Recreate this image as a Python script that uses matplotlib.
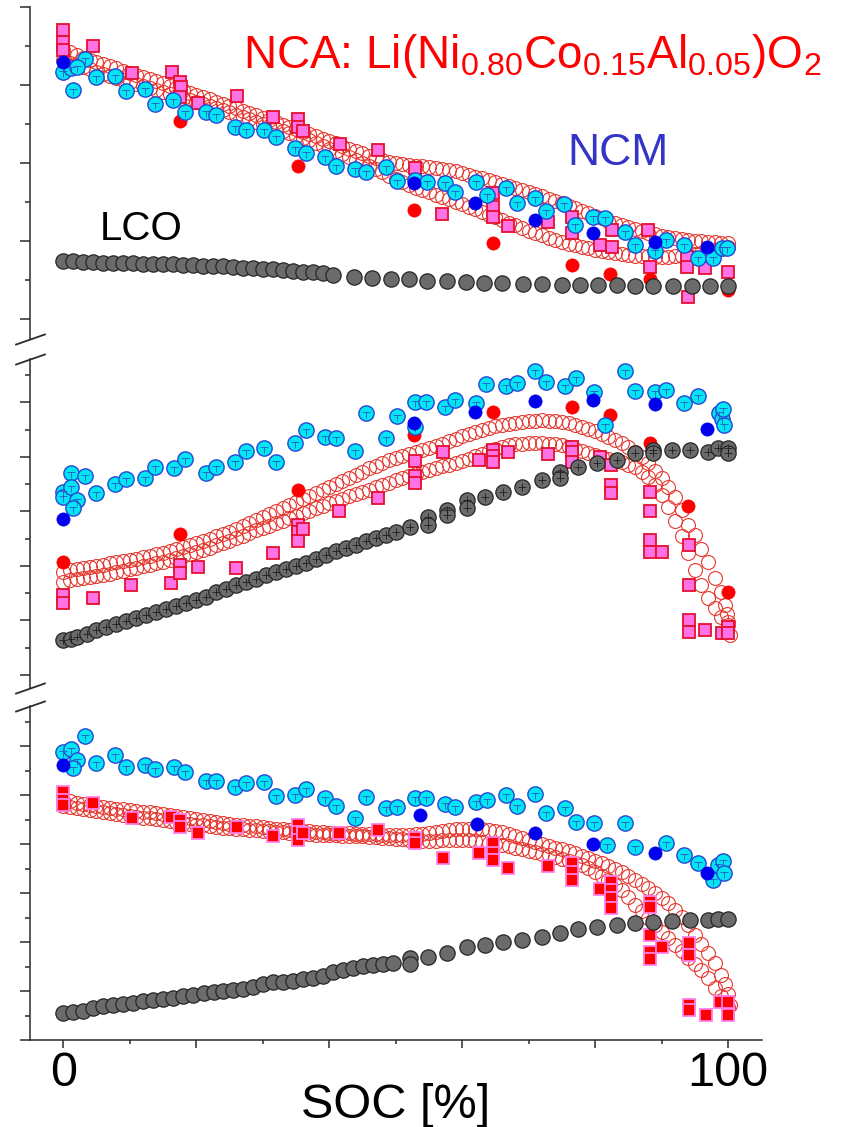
import numpy as np
import matplotlib.pyplot as plt
from matplotlib.path import Path

plt.rcParams['font.family'] = ['Liberation Sans', 'DejaVu Sans']
plt.rcParams['mathtext.fontset'] = 'custom'
plt.rcParams['mathtext.rm'] = 'Liberation Sans'
plt.rcParams['mathtext.it'] = 'Liberation Sans:italic'

# ---------------------------------------------------------------
# data: value in units of one y tick step, SOC in %
# ---------------------------------------------------------------

# SOC grid of the densely sampled NCA curves (1 % steps)
soc_grid = np.arange(0, 101)

# top panel
top_lco = [(0, 1.49), (1.5, 1.48), (3, 1.47), (4.5, 1.46), (6, 1.45), (7.5, 1.45), (9, 1.44),
           (10.5, 1.43), (12, 1.42), (13.5, 1.41), (15, 1.40), (16.5, 1.40), (18, 1.39),
           (19.5, 1.38), (21, 1.37), (22.5, 1.36), (24, 1.35), (25.5, 1.34), (27, 1.32),
           (28.5, 1.31), (30, 1.29), (31.5, 1.28), (33, 1.26), (34.5, 1.24), (36, 1.22),
           (37.5, 1.20), (39, 1.17), (40.5, 1.13), (43.8, 1.08), (46.5, 1.05), (49.3, 1.03),
           (52.0, 1.03), (54.7, 0.97), (57.7, 0.97), (60.6, 0.95), (63.3, 0.92), (66.0, 0.92),
           (69.2, 0.90), (72.0, 0.90), (75.0, 0.87), (77.7, 0.87), (80.5, 0.87), (83.3, 0.87),
           (86.0, 0.85), (88.7, 0.85), (91.7, 0.85), (94.6, 0.85), (97.3, 0.85), (100, 0.85)]
top_nca_a = [6.90, 6.84, 6.77, 6.70, 6.64, 6.59, 6.54, 6.48, 6.44, 6.37,
             6.31, 6.26, 6.21, 6.15, 6.10, 6.04, 5.97, 5.93, 5.87, 5.80,
             5.74, 5.70, 5.64, 5.57, 5.51, 5.47, 5.41, 5.34, 5.28, 5.22,
             5.15, 5.11, 5.05, 4.98, 4.92, 4.86, 4.79, 4.75, 4.69, 4.62,
             4.56, 4.51, 4.44, 4.37, 4.31, 4.25, 4.18, 4.14, 4.08, 4.03,
             4.00, 3.97, 3.95, 3.93, 3.92, 3.90, 3.87, 3.85, 3.82, 3.79,
             3.74, 3.70, 3.64, 3.61, 3.56, 3.51, 3.46, 3.42, 3.36, 3.31,
             3.26, 3.21, 3.15, 3.09, 3.03, 2.97, 2.90, 2.84, 2.77, 2.71,
             2.64, 2.58, 2.51, 2.46, 2.41, 2.36, 2.31, 2.26, 2.21, 2.17,
             2.13, 2.10, 2.08, 2.05, 2.03, 2.01, 2.00, 1.98, 1.97, 1.96,
             1.95]
top_nca_b = [6.64, 6.57, 6.51, 6.46, 6.41, 6.34, 6.28, 6.23, 6.18, 6.13,
             6.08, 6.02, 5.97, 5.92, 5.87, 5.82, 5.77, 5.72, 5.67, 5.61,
             5.56, 5.51, 5.46, 5.41, 5.36, 5.30, 5.24, 5.18, 5.12, 5.06,
             5.00, 4.94, 4.88, 4.82, 4.76, 4.70, 4.64, 4.58, 4.51, 4.44,
             4.37, 4.30, 4.23, 4.16, 4.08, 4.00, 3.92, 3.85, 3.77, 3.68,
             3.60, 3.52, 3.44, 3.37, 3.31, 3.25, 3.19, 3.13, 3.07, 3.01,
             2.95, 2.88, 2.81, 2.74, 2.67, 2.61, 2.54, 2.47, 2.40, 2.33,
             2.27, 2.21, 2.15, 2.09, 2.03, 1.97, 1.93, 1.89, 1.85, 1.81,
             1.78, 1.75, 1.72, 1.69, 1.67, 1.65, 1.63, 1.62, 1.61, 1.60,
             1.59, 1.60, 1.61, 1.62, 1.64, 1.66, 1.69, 1.72, 1.76, 1.80,
             1.85]
top_sq = [(0, 7.41), (0, 7.10), (0, 6.90), (4.5, 7.00), (10.4, 6.31), (16.4, 6.33), (17.6, 6.08),
          (17.7, 5.95), (17.6, 5.69), (20.2, 5.54), (26.2, 5.72), (31.6, 5.18), (35.3, 5.13),
          (35.3, 4.92), (36.1, 4.82), (41.7, 4.49), (47.4, 4.33), (52.9, 3.87), (57.0, 2.69),
          (64.7, 3.23), (64.7, 2.87), (64.7, 2.62), (66.9, 2.38), (72.9, 2.49), (76.5, 2.62),
          (76.5, 2.21), (80.8, 1.90), (82.6, 2.28), (82.6, 1.85), (88.0, 2.28), (88.3, 1.33),
          (93.8, 1.59), (93.8, 1.33), (94.0, 0.56), (96.5, 1.31), (100, 1.21)]
top_red = [(0, 6.31), (17.6, 5.08), (35.3, 3.92), (52.8, 2.79), (64.7, 1.95), (76.5, 1.38),
           (82.3, 1.15), (88.3, 1.03), (100, 0.74)]
top_blue = [(0, 6.59), (52.8, 3.49), (62.0, 2.97), (71.0, 2.54), (79.7, 2.21), (89.0, 1.97),
            (96.8, 1.85)]
top_cyan = [(0, 6.33), (1.2, 6.44), (1.4, 5.87), (3.3, 6.67), (2.1, 6.46), (5.0, 6.21),
            (7.8, 6.23), (9.5, 5.85), (12.3, 5.90), (13.8, 5.51), (16.5, 5.62), (18.3, 5.31),
            (21.4, 5.31), (23.0, 5.23), (25.9, 4.92), (27.5, 4.85), (30.2, 4.85), (32.0, 4.67),
            (34.9, 4.38), (36.5, 4.26), (39.4, 4.15), (41.1, 3.92), (43.9, 3.85), (45.6, 3.77),
            (48.6, 3.90), (50.2, 3.54), (52.9, 3.56), (54.7, 3.51), (57.4, 3.49), (58.9, 3.26),
            (62.1, 3.51), (63.8, 3.18), (66.6, 3.36), (68.3, 2.97), (71.0, 3.10), (72.6, 2.77),
            (75.3, 2.95), (77.0, 2.41), (79.7, 2.62), (81.5, 2.59), (84.5, 2.23), (86.0, 1.90),
            (89.0, 1.74), (90.7, 2.03), (93.4, 1.90), (95.5, 1.56), (97.7, 1.56), (99.1, 1.82),
            (99.8, 1.82)]

# middle panel
mid_lco = [(0, 1.28), (1.1, 1.32), (2.1, 1.39), (3.5, 1.50), (5.0, 1.65), (6.5, 1.76), (8.0, 1.87),
           (9.5, 1.98), (11.0, 2.09), (12.5, 2.20), (14.0, 2.31), (15.5, 2.42), (17.0, 2.53),
           (18.5, 2.64), (20.0, 2.75), (21.5, 2.86), (23.0, 3.04), (24.5, 3.15), (26.0, 3.30),
           (27.5, 3.41), (29.0, 3.52), (30.5, 3.67), (32.0, 3.78), (33.5, 3.89), (35.0, 4.00),
           (36.5, 4.11), (38.0, 4.25), (39.5, 4.40), (41.1, 4.55), (42.6, 4.66), (44.1, 4.77),
           (45.6, 4.91), (47.1, 5.02), (48.6, 5.13), (50.1, 5.24), (52.2, 5.43), (54.9, 5.79),
           (54.9, 5.50), (57.7, 6.05), (57.7, 5.87), (60.8, 6.42), (60.8, 6.12), (63.5, 6.53),
           (66.2, 6.71), (69.0, 6.89), (72.0, 7.15), (74.7, 7.44), (74.7, 7.22), (77.4, 7.63),
           (80.3, 7.77), (83.3, 7.88), (86.0, 8.14), (88.7, 8.25), (88.7, 8.14), (91.6, 8.25),
           (94.3, 8.25), (97.0, 8.18), (98.5, 8.32), (100, 8.32), (100, 8.14)]
mid_nca_a = [3.78, 3.84, 3.89, 3.92, 3.96, 4.00, 4.03, 4.09, 4.14, 4.18,
             4.22, 4.27, 4.33, 4.38, 4.44, 4.49, 4.55, 4.62, 4.69, 4.76,
             4.84, 4.91, 4.99, 5.08, 5.17, 5.26, 5.35, 5.46, 5.57, 5.68,
             5.79, 5.90, 6.01, 6.12, 6.23, 6.34, 6.45, 6.56, 6.67, 6.78,
             6.89, 7.00, 7.11, 7.22, 7.33, 7.46, 7.59, 7.68, 7.77, 7.87,
             7.96, 8.03, 8.10, 8.18, 8.25, 8.33, 8.40, 8.49, 8.58, 8.67,
             8.76, 8.84, 8.91, 8.99, 9.06, 9.12, 9.17, 9.21, 9.24, 9.28,
             9.31, 9.33, 9.35, 9.33, 9.31, 9.28, 9.24, 9.17, 9.09, 9.02,
             8.95, 8.84, 8.73, 8.62, 8.51, 8.35, 8.18, 7.98, 7.77, 7.50,
             7.22, 6.88, 6.53, 6.05, 5.50, 5.13, 4.62, 4.14, 3.56, 3.04,
             1.94]
mid_nca_b = [3.41, 3.47, 3.52, 3.56, 3.59, 3.63, 3.67, 3.72, 3.78, 3.83,
             3.89, 3.94, 4.00, 4.05, 4.11, 4.16, 4.22, 4.29, 4.36, 4.43,
             4.51, 4.58, 4.66, 4.75, 4.84, 4.93, 5.02, 5.11, 5.21, 5.30,
             5.39, 5.48, 5.57, 5.66, 5.76, 5.85, 5.94, 6.03, 6.12, 6.21,
             6.31, 6.38, 6.45, 6.55, 6.64, 6.71, 6.78, 6.88, 6.97, 7.06,
             7.15, 7.22, 7.30, 7.37, 7.44, 7.52, 7.59, 7.65, 7.70, 7.78,
             7.85, 7.94, 8.03, 8.12, 8.21, 8.29, 8.36, 8.42, 8.47, 8.49,
             8.51, 8.51, 8.51, 8.49, 8.47, 8.42, 8.36, 8.29, 8.21, 8.14,
             8.07, 8.00, 7.92, 7.87, 7.81, 7.72, 7.63, 7.45, 7.26, 6.97,
             6.60, 6.16, 5.65, 5.10, 4.47, 3.85, 3.30, 2.82, 2.46, 2.13,
             1.83]
mid_nca_tail = [(99.6, 2.57), (99.8, 2.25), (100.3, 1.47)]
mid_sq = [(0, 2.93), (0, 2.64), (4.5, 2.82), (10.2, 3.30), (16.2, 3.37), (17.6, 4.03), (17.6, 3.74),
          (20.2, 3.96), (26.0, 3.92), (31.6, 4.47), (35.3, 5.50), (35.3, 5.24), (35.3, 4.91),
          (36.1, 5.35), (41.5, 6.01), (47.4, 6.49), (52.9, 7.85), (52.9, 7.30), (52.9, 7.04),
          (57.1, 8.18), (62.6, 7.88), (64.7, 8.25), (64.7, 8.03), (64.7, 7.81), (66.9, 8.18),
          (72.9, 8.10), (76.5, 8.36), (76.5, 8.18), (76.5, 7.81), (80.8, 7.99), (82.4, 7.70),
          (82.4, 6.97), (82.4, 6.67), (88.3, 6.71), (88.3, 6.01), (88.3, 4.95), (88.3, 4.51),
          (90.1, 4.51), (94.1, 4.77), (94.1, 3.30), (94.1, 2.02), (94.1, 1.58), (96.5, 1.65),
          (99.1, 1.54), (100, 1.76), (100, 1.54)]
mid_red = [(0, 4.14), (17.6, 5.17), (35.3, 6.78), (52.8, 8.80), (64.7, 9.64), (76.5, 9.83),
           (82.3, 9.54), (88.3, 8.51), (94.0, 6.20), (100, 3.04)]
mid_blue = [(0, 5.72), (52.8, 9.24), (62.0, 9.64), (71.0, 10.05), (79.7, 10.08), (89.0, 9.94),
            (96.8, 9.02)]
mid_cyan = [(0, 6.71), (0, 6.53), (1.2, 7.41), (1.1, 6.89), (2.0, 6.42), (1.5, 6.12), (3.3, 7.30),
            (5.0, 6.67), (7.8, 7.00), (9.5, 7.19), (12.3, 7.22), (13.8, 7.63), (16.7, 7.59),
            (18.3, 7.92), (21.4, 7.41), (23.0, 7.63), (25.9, 7.81), (27.5, 8.21), (30.2, 8.32),
            (32.0, 7.81), (34.9, 8.51), (36.5, 8.98), (39.4, 8.73), (41.1, 8.69), (43.9, 8.21),
            (45.6, 9.61), (48.6, 8.69), (50.2, 9.50), (52.9, 10.01), (52.9, 9.09), (54.6, 10.01),
            (57.4, 9.83), (58.9, 10.08), (62.1, 9.97), (63.6, 10.67), (66.6, 10.60), (68.3, 10.71),
            (71.0, 11.15), (72.6, 10.74), (75.5, 10.60), (77.1, 10.89), (79.8, 10.38),
            (81.5, 9.17), (84.5, 11.15), (86.0, 10.41), (89.0, 10.38), (90.7, 10.45),
            (93.4, 9.97), (95.5, 10.23), (98.6, 9.61), (99.1, 9.39), (99.2, 9.75), (99.4, 9.17)]

# bottom panel
bot_lco = [(0, 0.12), (1.5, 0.16), (3.0, 0.20), (4.5, 0.29), (6.0, 0.37), (7.5, 0.45), (9.0, 0.49),
           (10.5, 0.53), (12.0, 0.61), (13.5, 0.65), (15.0, 0.69), (16.5, 0.73), (18.0, 0.78),
           (19.5, 0.82), (21.1, 0.90), (22.6, 0.98), (24.1, 1.02), (25.6, 1.06), (27.1, 1.10),
           (28.6, 1.18), (30.1, 1.27), (31.6, 1.35), (33.1, 1.39), (34.6, 1.43), (36.1, 1.51),
           (37.6, 1.55), (39.1, 1.63), (40.6, 1.76), (42.1, 1.84), (43.6, 1.96), (45.1, 2.04),
           (46.6, 2.08), (48.1, 2.12), (49.6, 2.16), (52.2, 2.37), (52.2, 2.12), (54.9, 2.41),
           (57.7, 2.57), (60.8, 2.78), (63.5, 2.90), (66.2, 3.02), (69.0, 3.10), (72.0, 3.22),
           (74.7, 3.39), (77.4, 3.55), (80.3, 3.63), (83.3, 3.71), (86.0, 3.80), (88.7, 3.84),
           (91.6, 3.88), (94.3, 3.92), (97.0, 3.92), (98.5, 3.96), (100, 3.96)]
bot_nca_a = [8.82, 8.75, 8.69, 8.65, 8.61, 8.57, 8.53, 8.49, 8.45, 8.43,
             8.41, 8.37, 8.33, 8.31, 8.29, 8.24, 8.20, 8.16, 8.12, 8.08,
             8.04, 8.00, 7.96, 7.92, 7.88, 7.84, 7.80, 7.78, 7.76, 7.73,
             7.71, 7.67, 7.63, 7.61, 7.59, 7.57, 7.55, 7.53, 7.51, 7.49,
             7.47, 7.47, 7.47, 7.45, 7.43, 7.43, 7.43, 7.41, 7.39, 7.39,
             7.39, 7.39, 7.39, 7.41, 7.43, 7.47, 7.51, 7.55, 7.59, 7.61,
             7.63, 7.63, 7.63, 7.61, 7.59, 7.55, 7.51, 7.43, 7.35, 7.27,
             7.18, 7.10, 7.02, 6.94, 6.86, 6.80, 6.73, 6.63, 6.53, 6.43,
             6.33, 6.22, 6.12, 6.00, 5.88, 5.71, 5.55, 5.39, 5.22, 5.02,
             4.82, 4.58, 4.33, 4.02, 3.71, 3.31, 2.94, 2.57, 2.16, 1.67,
             0.86]
bot_nca_b = [8.57, 8.53, 8.49, 8.45, 8.41, 8.37, 8.33, 8.29, 8.24, 8.20,
             8.16, 8.12, 8.08, 8.06, 8.04, 8.00, 7.96, 7.92, 7.88, 7.84,
             7.80, 7.78, 7.76, 7.71, 7.67, 7.65, 7.63, 7.61, 7.59, 7.57,
             7.55, 7.53, 7.51, 7.49, 7.47, 7.45, 7.43, 7.41, 7.39, 7.39,
             7.39, 7.37, 7.35, 7.35, 7.35, 7.33, 7.31, 7.29, 7.27, 7.24,
             7.22, 7.20, 7.18, 7.16, 7.14, 7.14, 7.14, 7.16, 7.18, 7.18,
             7.18, 7.16, 7.14, 7.10, 7.06, 7.02, 6.98, 6.92, 6.86, 6.80,
             6.73, 6.67, 6.61, 6.55, 6.49, 6.41, 6.33, 6.24, 6.16, 6.02,
             5.88, 5.71, 5.55, 5.35, 5.14, 4.84, 4.53, 4.27, 4.00, 3.71,
             3.43, 3.16, 2.90, 2.63, 2.37, 2.12, 1.88, 1.55, 1.14, 0.78,
             0.33]
bot_nca_tail = [(99.6, 1.27), (100.3, 0.45)]
bot_sq = [(0, 9.14), (0, 8.82), (0, 8.61), (4.5, 8.69), (10.4, 8.08), (16.2, 8.12), (17.6, 8.00),
          (17.6, 7.71), (20.2, 7.47), (26.2, 7.71), (31.6, 7.35), (35.3, 7.80), (35.3, 7.51),
          (35.3, 7.18), (36.1, 7.47), (41.5, 7.47), (47.4, 7.59), (52.9, 7.27), (52.9, 7.06),
          (57.1, 6.45), (62.6, 6.65), (64.7, 7.06), (64.7, 6.65), (64.7, 6.37), (66.9, 6.04),
          (72.9, 6.12), (76.5, 6.24), (76.5, 5.88), (76.5, 5.55), (80.8, 5.18), (82.4, 5.47),
          (82.4, 5.14), (82.4, 4.82), (82.4, 4.41), (88.3, 4.65), (88.3, 4.45), (88.3, 3.31),
          (88.3, 2.61), (88.3, 2.29), (90.1, 2.82), (94.1, 2.98), (94.1, 2.49), (94.1, 0.45),
          (94.1, 0.24), (96.7, 0.04), (98.8, 0.57), (100, 0.57), (100, 0.04)]
bot_blue = [(0, 10.24), (53.7, 8.20), (62.3, 7.84), (71.0, 7.47), (79.7, 7.02), (89.0, 6.65),
            (96.8, 5.84)]
bot_cyan = [(0, 10.78), (1.2, 10.90), (2.1, 10.45), (1.4, 10.12), (3.3, 11.43), (5.0, 10.33),
            (7.8, 10.65), (9.5, 10.16), (12.3, 10.24), (13.8, 10.08), (16.7, 10.16), (18.3, 9.96),
            (21.4, 9.59), (23.0, 9.59), (25.9, 9.35), (27.5, 9.51), (30.2, 9.55), (32.0, 8.98),
            (34.9, 9.02), (36.5, 9.27), (39.4, 8.90), (41.1, 8.57), (43.9, 8.08), (45.6, 8.94),
            (48.6, 8.49), (50.2, 8.53), (52.9, 8.90), (54.6, 8.90), (57.4, 8.65), (58.9, 8.53),
            (62.1, 8.73), (63.8, 8.82), (66.6, 9.02), (68.3, 8.57), (71.0, 9.06), (72.6, 8.29),
            (75.5, 8.49), (77.1, 7.92), (79.8, 7.88), (81.8, 6.98), (84.5, 7.88), (86.0, 6.90),
            (90.7, 7.06), (93.4, 6.57), (95.5, 6.24), (97.7, 5.55), (98.5, 6.16), (99.2, 6.33),
            (99.4, 5.84)]

AXIS = '#2b2b2b'

# small "T" glyph drawn inside the cyan symbols
t_glyph = Path([(-0.6, 0.15), (0.6, 0.15), (0, 0.15), (0, -0.7)],
               [Path.MOVETO, Path.LINETO, Path.MOVETO, Path.LINETO])


def xy(pairs):
    a = np.array(pairs, dtype=float)
    return a[:, 0], a[:, 1]


def draw_open(ax, x, y):
    ax.plot(x, y, 'o', ms=10, mfc='none', mec='#e6382f', mew=0.8, zorder=2)


def draw_squares(ax, pairs, face, edge):
    x, y = xy(pairs)
    ax.plot(x, y, 's', ms=8, mfc=face, mec=edge, mew=1.3, zorder=3)


def draw_dots(ax, pairs, color, z):
    x, y = xy(pairs)
    ax.plot(x, y, 'o', ms=9.5, mfc=color, mec=color, mew=0.5, zorder=z)


def draw_lco(ax, pairs, glyph=False):
    x, y = xy(pairs)
    ax.plot(x, y, 'o', ms=11, mfc='#6b6b6b', mec='#262626', mew=0.9, zorder=5)
    if glyph:
        ax.plot(x, y, '+', ms=6, mec='#1e1e1e', mew=0.6, zorder=5.1)


def draw_cyan(ax, pairs):
    x, y = xy(pairs)
    ax.plot(x, y, 'o', ms=11, mfc='#00e6f2', mec='#2746d6', mew=1.0, zorder=6)
    ax.plot(x, y, marker=t_glyph, ls='none', ms=7, mfc='none', mec='#2f55c8', mew=0.6,
            zorder=6.1)


def style_panel(ax, ylim, major, minor):
    ax.set_ylim(*ylim)
    ax.set_yticks(major)
    ax.set_yticks(minor, minor=True)
    ax.tick_params(axis='y', which='both', direction='out', labelleft=False,
                   width=1.1, color=AXIS)
    ax.tick_params(axis='y', which='major', length=7.2)
    ax.tick_params(axis='y', which='minor', length=3.6)
    for side in ('top', 'right', 'bottom'):
        ax.spines[side].set_visible(False)
    ax.spines['left'].set_linewidth(1.1)
    ax.spines['left'].set_color(AXIS)
    ax.tick_params(axis='x', which='both', bottom=False, labelbottom=False)
    ax.patch.set_alpha(0)


fig = plt.figure(figsize=(8.43, 11.27), dpi=100)
ax_top = fig.add_axes([0.0356, 0.6992, 0.8683, 0.2946])
ax_mid = fig.add_axes([0.0356, 0.3895, 0.8683, 0.2919], sharex=ax_top)
ax_bot = fig.add_axes([0.0356, 0.0772, 0.8683, 0.2964], sharex=ax_top)

# top panel
draw_open(ax_top, soc_grid, top_nca_a)
draw_open(ax_top, soc_grid, top_nca_b)
draw_squares(ax_top, top_sq, '#ff72e6', '#e5102e')
draw_dots(ax_top, top_red, '#ff0000', 4)
draw_lco(ax_top, top_lco)
draw_cyan(ax_top, top_cyan)
draw_dots(ax_top, top_blue, '#0000ee', 7)

# middle panel
draw_open(ax_mid, soc_grid, mid_nca_a)
draw_open(ax_mid, soc_grid, mid_nca_b)
draw_open(ax_mid, *xy(mid_nca_tail))
draw_squares(ax_mid, mid_sq, '#ff72e6', '#e5102e')
draw_dots(ax_mid, mid_red, '#ff0000', 4)
draw_lco(ax_mid, mid_lco, glyph=True)
draw_cyan(ax_mid, mid_cyan)
draw_dots(ax_mid, mid_blue, '#0000ee', 7)

# bottom panel
draw_open(ax_bot, soc_grid, bot_nca_a)
draw_open(ax_bot, soc_grid, bot_nca_b)
draw_open(ax_bot, *xy(bot_nca_tail))
draw_squares(ax_bot, bot_sq, '#ff0000', '#ff7ee8')
draw_lco(ax_bot, bot_lco)
draw_cyan(ax_bot, bot_cyan)
draw_dots(ax_bot, bot_blue, '#0000ee', 7)

style_panel(ax_top, (-0.51, 8.0), [0, 2, 4, 6, 8], [1, 3, 5, 7])
style_panel(ax_mid, (-0.48, 11.59), [0, 2, 4, 6, 8, 10], [1, 3, 5, 7, 9, 11])
style_panel(ax_bot, (-1.0, 12.65), [-1, 1, 3, 5, 7, 9, 11], [0, 2, 4, 6, 8, 10, 12])

# x axis only on the bottom panel
ax_bot.spines['bottom'].set_visible(True)
ax_bot.spines['bottom'].set_linewidth(1.1)
ax_bot.spines['bottom'].set_color(AXIS)
ax_bot.set_xlim(-5.0, 105.1)
ax_bot.set_xticks([0, 20, 40, 60, 80, 100])
ax_bot.set_xticklabels(['0', '', '', '', '', '100'])
ax_bot.set_xticks([10, 30, 50, 70, 90], minor=True)
ax_bot.tick_params(axis='x', which='both', bottom=True, labelbottom=True, direction='out',
                   width=1.1, color=AXIS, labelsize=35, pad=2)
ax_bot.tick_params(axis='x', which='major', length=6)
ax_bot.tick_params(axis='x', which='minor', length=3)
fig.text(0.4697, 0.008, 'SOC [%]', fontsize=35, ha='center', va='baseline')

# axis break marks
brk = dict(marker=[(-1, -0.35), (1, 0.35)], markersize=22, linestyle='none',
           color=AXIS, mec=AXIS, mew=1.3, clip_on=False)
ax_top.plot([0], [0], transform=ax_top.transAxes, **brk)
ax_mid.plot([0, 0], [0, 1], transform=ax_mid.transAxes, **brk)
ax_bot.plot([0], [1], transform=ax_bot.transAxes, **brk)

# material labels
ax_top.text(0.291, 0.816,
            r'NCA: Li(Ni$_{\mathregular{0.80}}$Co$_{\mathregular{0.15}}$'
            r'Al$_{\mathregular{0.05}}$)O$_{\mathregular{2}}$',
            color='#ff0000', fontsize=33, va='baseline', ha='left', transform=ax_top.transAxes)
ax_top.text(0.734, 0.524, 'NCM', color='#3434c8', fontsize=32, va='baseline', ha='left',
            transform=ax_top.transAxes)
ax_top.text(0.0956, 0.298, 'LCO', color='black', fontsize=29, va='baseline', ha='left',
            transform=ax_top.transAxes)

fig.savefig('out.png', dpi=100)
